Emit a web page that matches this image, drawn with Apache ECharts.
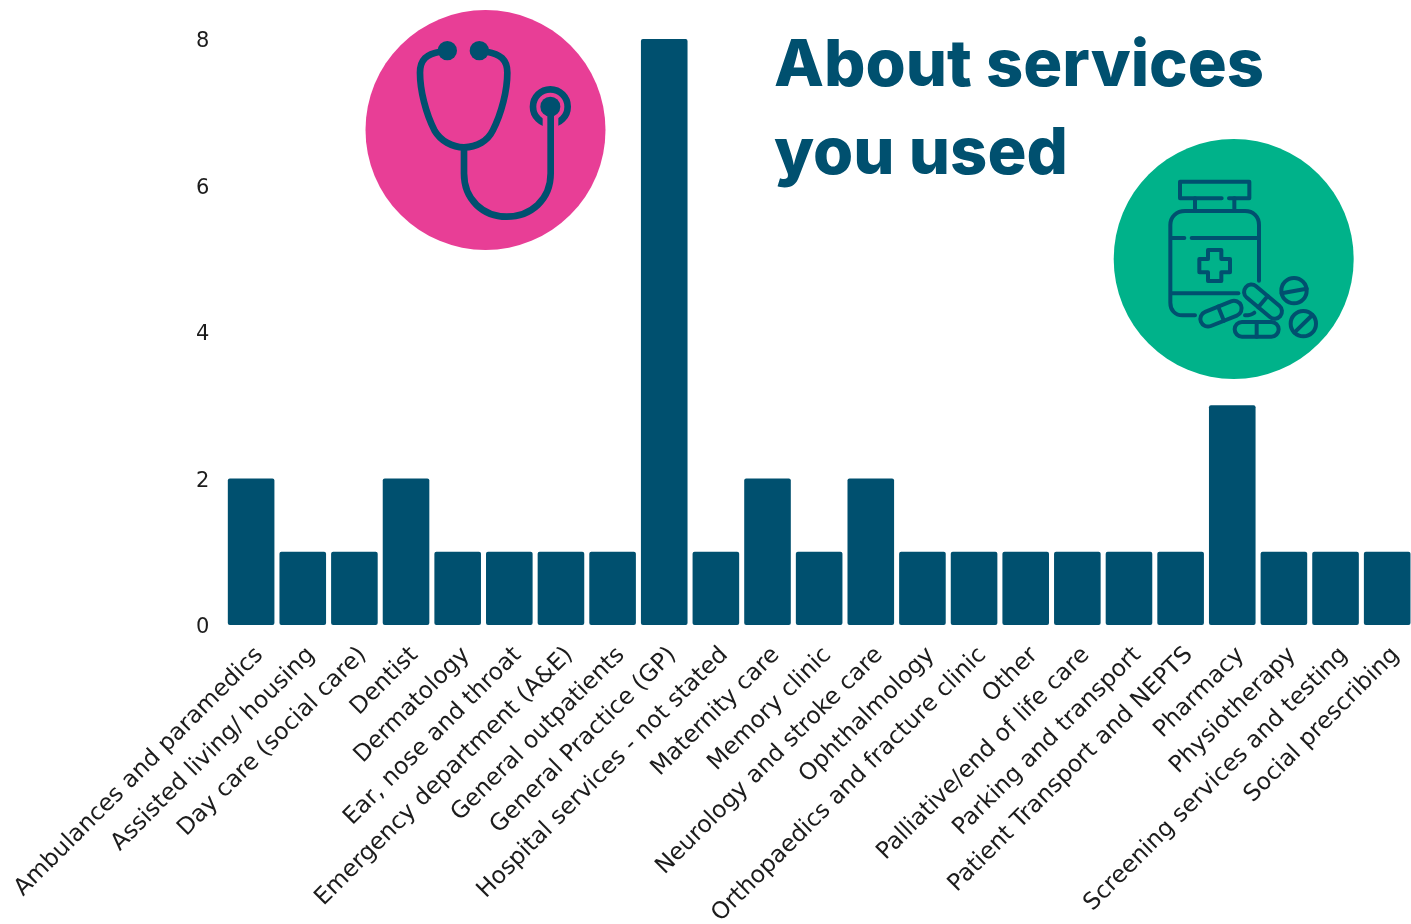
<!DOCTYPE html>
<html><head><meta charset="utf-8">
<style>html,body{margin:0;padding:0;background:#fff;overflow:hidden;width:1411px;height:924px}#c{width:1411px;height:924px}</style>
<script src="https://cdn.jsdelivr.net/npm/echarts@6/dist/echarts.min.js"></script>
</head><body><div id="c"></div>
<script>
const categories = ["Ambulances and paramedics","Assisted living/ housing","Day care (social care)","Dentist","Dermatology","Ear, nose and throat","Emergency department (A&E)","General outpatients","General Practice (GP)","Hospital services - not stated","Maternity care","Memory clinic","Neurology and stroke care","Ophthalmology","Orthopaedics and fracture clinic","Other","Palliative/end of life care","Parking and transport","Patient Transport and NEPTS","Pharmacy","Physiotherapy","Screening services and testing","Social prescribing"];
const counts = [2,1,1,2,1,1,1,1,8,1,2,1,2,1,1,1,1,1,1,3,1,1,1];
const yTicks = {min:0,max:8,interval:2};
const titleText = "About services\nyou used";
const DARK = "#00506F", PINK = "#E83E96", GREEN = "#00B28A", FONT = "Inter, 'Noto Sans', sans-serif", LABEL_FONT = "'DejaVu Sans', sans-serif";

let shapeCount = 0;
const pathShape = (d)=>{const name='iconPath'+(shapeCount++);echarts.graphic.registerShape(name,echarts.graphic.extendPath(d,{}));return name;};
const line = (d,w,cap)=>({type:pathShape(d),style:{fill:null,stroke:DARK,lineWidth:w,lineCap:cap||'round',lineJoin:'round'}});
const dot = (x,y,r)=>({type:'circle',shape:{cx:x,cy:y,r},style:{fill:DARK}});
const capsule = (cx,cy,deg,len,h)=>({type:'group',x:cx,y:cy,rotation:deg*Math.PI/180,children:[
  {type:'rect',shape:{x:-len/2,y:-h/2,width:len,height:h,r:h/2},style:{fill:null,stroke:DARK,lineWidth:12}},
  line(`M 0 ${-h/2} L 0 ${h/2}`,12)]});
const ring = (x,y,r,w)=>({type:'circle',shape:{cx:x,cy:y,r},style:{fill:null,stroke:DARK,lineWidth:w||12}});

const stethoscope = {type:'group',x:360,y:0,scaleX:1/3,scaleY:1/3,children:[
  line("M 240 155 C 200 162 180 178 180 218 C 180 270 197 340 224 392 C 242 422 276 442 312 442 C 350 442 384 422 398 392 C 425 340 442 270 442 218 C 442 178 420 162 380 155",20),
  ring(571,320,52,20),
  {type:'rect',shape:{x:548,y:350,width:47,height:40},style:{fill:PINK}},
  line("M 312 442 L 312 520 C 312 600 370 650 440 650 C 512 650 572 600 572 520 L 572 325",20),
  dot(262,152,29),dot(358,152,29),dot(571,320,30)
]};
const pills = {type:'group',x:1105,y:130,scaleX:1/3,scaleY:1/3,children:[
  line("M 350 205 L 225 205 L 225 155 L 433 155 L 433 205 L 372 205",12),
  line("M 270 205 L 270 240",12),line("M 388 205 L 388 240",12),
  line("M 270 556 L 232 556 C 210 556 196 540 196 518 L 196 285 C 196 260 215 243 240 243 L 420 243 C 445 243 462 260 462 285 L 462 452",12),
  line("M 200 324 L 238 324",12),line("M 260 324 L 458 324",12),line("M 200 490 L 400 490",12),
  line("M 309 360 L 349 360 L 349 387 L 375 387 L 375 427 L 349 427 L 349 453 L 309 453 L 309 427 L 283 427 L 283 387 L 309 387 Z",12),
  capsule(348,551,22,130,46),capsule(474,515,-40,135,44),capsule(455,598,0,132,44),
  line("M 420 556 C 430 556 442 553 448 548",12),
  ring(567,482,38),line("M 530 490 L 605 476",12),
  ring(595,581,38),line("M 568 608 L 622 555",12)
]};

const chart = echarts.init(document.getElementById('c'),null,{renderer:'canvas'});
chart.setOption({
  animation:false,
  backgroundColor:'#fff',
  title:{text:titleText,left:769,top:17,itemGap:0,textStyle:{color:DARK,fontFamily:FONT,fontWeight:800,fontSize:65,lineHeight:88}},
  grid:{left:225.3,top:39,width:1187.7,height:586,outerBoundsMode:'none'},
  xAxis:{type:'category',data:categories,axisLine:{show:false},axisTick:{show:false},
    axisLabel:{interval:0,rotate:45,margin:18,verticalAlign:'top',fontFamily:LABEL_FONT,fontSize:23.5,color:'#1c1c1c'}},
  yAxis:{type:'value',min:yTicks.min,max:yTicks.max,interval:yTicks.interval,splitLine:{show:false},axisLine:{show:false},axisTick:{show:false},
    axisLabel:{margin:16,formatter:'{v|{value}}',rich:{v:{padding:[6,0,0,0],fontFamily:LABEL_FONT,fontSize:21,color:'#1c1c1c'}}}},
  series:[{type:'bar',data:counts,barWidth:46.6,itemStyle:{color:DARK,borderRadius:2}}],
  graphic:[
    {type:'circle',shape:{cx:485.5,cy:130,r:120},style:{fill:PINK}},
    {type:'circle',shape:{cx:1233.7,cy:259,r:120},style:{fill:GREEN}},
    stethoscope,pills
  ]
});
</script></body></html>
